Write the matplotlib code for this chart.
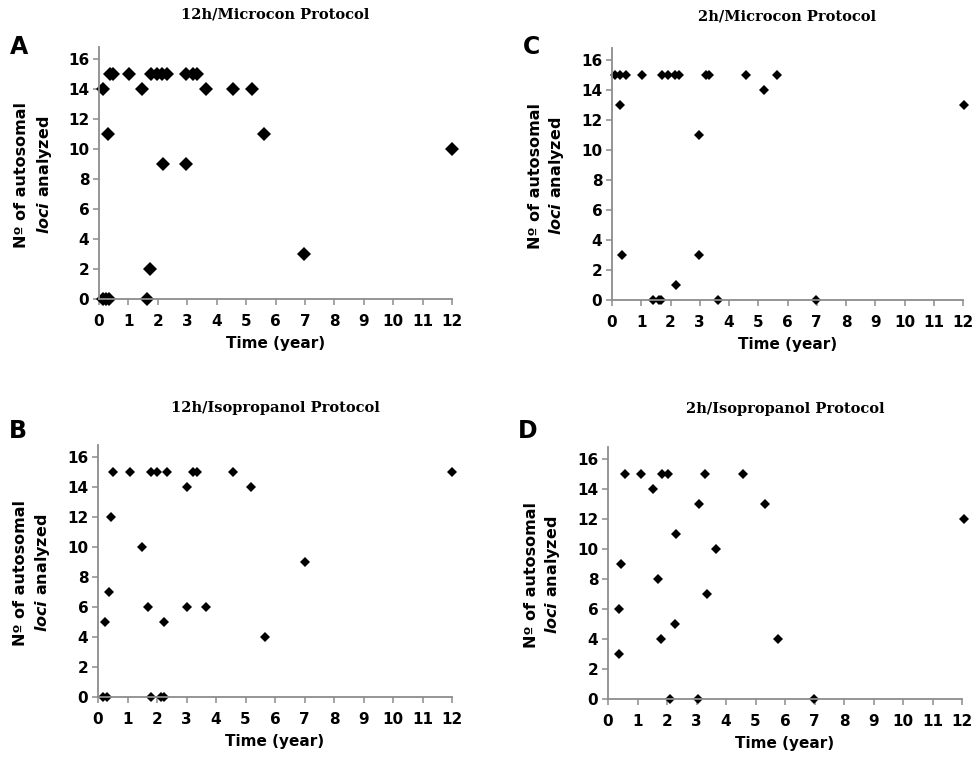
import numpy as np
import matplotlib
matplotlib.use("Agg")
from matplotlib import pyplot as plt

plt.rcParams['font.family'] = ['DejaVu Sans']
plt.rcParams['mathtext.fontset'] = 'custom'
plt.rcParams['mathtext.it'] = 'DejaVu Sans:italic:bold'

# panel A - 12h/Microcon
a_x = [0.15, 1.45, 3.64, 4.55, 5.19,
       0.37, 0.49, 1.03, 1.76, 1.96, 2.13, 2.32, 2.96, 3.21, 3.34,
       0.32, 2.19, 2.96, 5.62, 12.0, 6.97, 1.73,
       0.12, 0.24, 0.35, 1.62]
a_y = [14, 14, 14, 14, 14,
       15, 15, 15, 15, 15, 15, 15, 15, 15, 15,
       11, 9, 9, 11, 10, 3, 2,
       0, 0, 0, 0]

# panel C - 2h/Microcon
c_x = [0.10, 0.27, 0.48, 1.01, 1.71, 1.91, 2.15, 2.29, 3.21, 3.33, 4.58, 5.65,
       5.21, 0.27, 12.05, 2.97, 0.35, 2.98, 2.19,
       1.41, 1.62, 1.68, 3.61, 6.97]
c_y = [15, 15, 15, 15, 15, 15, 15, 15, 15, 15, 15, 15,
       14, 13, 13, 11, 3, 3, 1,
       0, 0, 0, 0, 0]

# panel B - 12h/Isopropanol
b_x = [0.50, 1.08, 1.79, 2.01, 2.35, 3.23, 3.37, 4.59, 12.0,
       3.0, 5.2, 0.44, 1.50, 7.02, 0.37, 1.68, 3.0, 3.67, 0.24, 2.24, 5.65,
       0.18, 0.32, 1.8, 2.13, 2.24]
b_y = [15, 15, 15, 15, 15, 15, 15, 15, 15,
       14, 14, 12, 10, 9, 7, 6, 6, 6, 5, 5, 4,
       0, 0, 0, 0, 0]

# panel D - 2h/Isopropanol
d_x = [0.58, 1.12, 1.82, 2.04, 3.29, 4.59,
       1.51, 3.09, 5.32, 12.08, 2.31, 3.67, 0.44, 1.69, 3.35, 0.37, 2.27,
       1.79, 5.75, 0.37, 2.1, 3.06, 6.99]
d_y = [15, 15, 15, 15, 15, 15,
       14, 13, 13, 12, 11, 10, 9, 8, 7, 6, 5,
       4, 4, 3, 0, 0, 0]

xticks = list(range(0, 13))
yticks = list(range(0, 17, 2))

W, H = 974, 757
fig = plt.figure(figsize=(W / 100, H / 100), dpi=100)


def px(x, y):
    return x / W, 1 - y / H


panels = [
    # letter, title, x, y, axes box (left, top, right, bottom px), marker size, title y, letter y
    ('A', '12h/Microcon Protocol', a_x, a_y, (99, 47, 452, 299), 7.5, 15, 47),
    ('C', '2h/Microcon Protocol', c_x, c_y, (612, 48, 963, 300), 5.5, 16, 47),
    ('B', '12h/Isopropanol Protocol', b_x, b_y, (98, 445, 452, 697), 5, 408, 431),
    ('D', '2h/Isopropanol Protocol', d_x, d_y, (608, 447, 962, 699), 5, 409, 431),
]

for letter, title, xs, ys, box, ms, ty, ly in panels:
    l, t, r, b = box
    ax = fig.add_axes([l / W, 1 - b / H, (r - l) / W, (b - t) / H])
    ax.plot(xs, ys, 'D', color='black', markersize=ms, clip_on=False,
            markeredgewidth=0)
    ax.set_xlim(0, 12)
    ax.set_ylim(0, 16.8)
    ax.set_xticks(xticks)
    ax.set_yticks(yticks)
    ax.set_xticklabels([str(v) for v in xticks], fontsize=11, fontweight='bold')
    ax.set_yticklabels([str(v) for v in yticks], fontsize=11, fontweight='bold')
    for s in ['top', 'right']:
        ax.spines[s].set_visible(False)
    for s in ['left', 'bottom']:
        ax.spines[s].set_color('#8c8c8c')
        ax.spines[s].set_linewidth(1.3)
    ax.tick_params(axis='both', color='#8c8c8c', length=4, width=1.1, pad=3)
    ax.tick_params(axis='x', pad=7)
    ax.set_xlabel('Time (year)', fontsize=11, fontweight='bold', labelpad=5)

    cx = (l + r) / 2
    fig.text(*px(cx, ty), title, ha='center', va='center',
             family='DejaVu Serif', fontweight='bold', fontsize=10.5)
    fig.text(*px(l - 80, ly), letter, ha='center', va='center',
             fontsize=17, fontweight='heavy')

    cy = (t + b) / 2 + 2
    fig.text(*px(l - 77, cy), 'Nº of autosomal', rotation=90,
             ha='center', va='center', fontsize=11.5, fontweight='bold')
    fig.text(*px(l - 55, cy), r'$loci$ analyzed', rotation=90,
             ha='center', va='center', fontsize=11.5, fontweight='bold')

fig.savefig('out.png', dpi=100)
